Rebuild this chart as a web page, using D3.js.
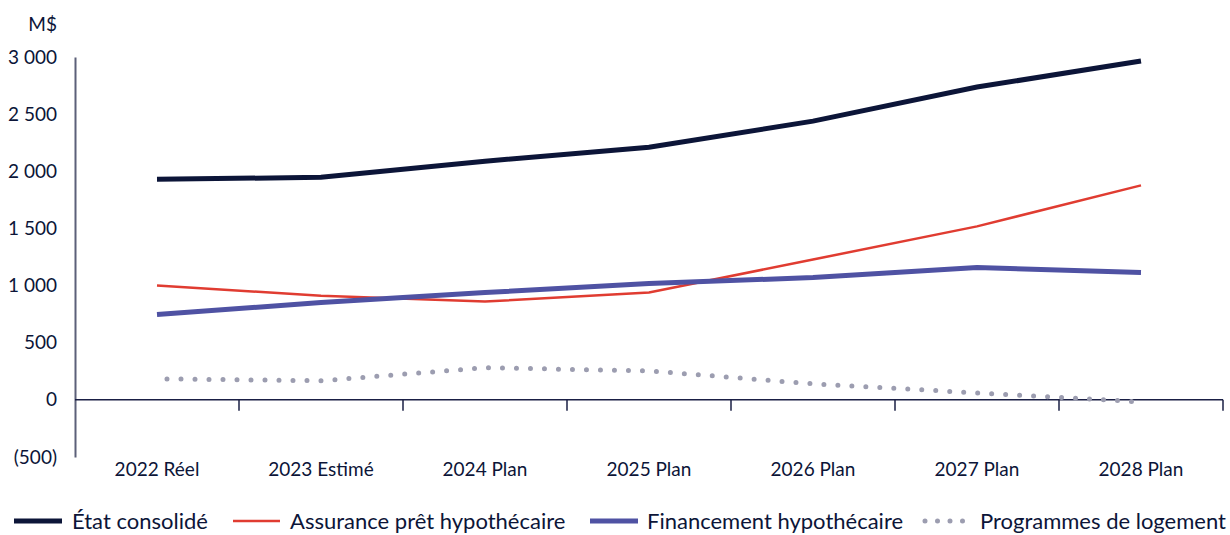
<!DOCTYPE html>
<html>
<head>
<meta charset="utf-8">
<script src="https://cdn.jsdelivr.net/npm/d3@7"></script>
<style>
  body { margin: 0; background: #fff; }
  text { font-family: Lato, "Open Sans", sans-serif; fill: #0c1538; }
  .tick-label { font-size: 19px; }
  .legend-label { font-size: 22px; }
</style>
</head>
<body>
<div id="chart"></div>
<script>
// Categories and series (M$)
const years = ["2022 Réel", "2023 Estimé", "2024 Plan", "2025 Plan", "2026 Plan", "2027 Plan", "2028 Plan"];
const etatConsolide = [1930, 1947, 2088, 2210, 2439, 2737, 2965];
const assurance = [1000, 912, 860, 939, 1228, 1518, 1877];
const financement = [746, 851, 939, 1018, 1070, 1158, 1114];
const programmes = [184, 167, 281, 254, 140, 61, -18];
const yTicks = [-500, 0, 500, 1000, 1500, 2000, 2500, 3000];

const seriesList = [
  { name: "État consolidé", values: etatConsolide, color: "#0c1538", width: 5, dotted: false },
  { name: "Assurance prêt hypothécaire", values: assurance, color: "#e03c31", width: 2.5, dotted: false },
  { name: "Financement hypothécaire", values: financement, color: "#4f52a3", width: 5, dotted: false },
  { name: "Programmes de logement", values: programmes, color: "#9c9db0", width: 5, dotted: true }
];

const W = 1230, H = 535;
const plot = { left: 75, right: 1223, top: 57, bottom: 457 };

const svg = d3.select("#chart")
  .append("svg")
  .attr("width", W)
  .attr("height", H);

const x = d3.scaleBand()
  .domain(years)
  .range([plot.left, plot.right]);

const y = d3.scaleLinear()
  .domain([-500, 3000])
  .range([plot.bottom, plot.top]);

const fmt = v => {
  const s = d3.format(",")(Math.abs(v)).replace(/,/g, " ");
  return v < 0 ? `(${s})` : s;
};

// Y axis: line only, labels on the left
const yAxis = svg.append("g")
  .attr("transform", `translate(${plot.left},0)`)
  .call(d3.axisLeft(y).tickValues(yTicks).tickSize(0).tickPadding(18).tickFormat(fmt));
yAxis.select(".domain").attr("stroke", "#5c6079").attr("stroke-width", 2);
yAxis.selectAll("text").attr("class", "tick-label").attr("fill", "#0c1538")
  .style("font-family", "Lato, sans-serif").style("font-size", "19px");

svg.append("text")
  .attr("class", "tick-label")
  .attr("x", plot.left - 18)
  .attr("y", 25)
  .attr("dy", "0.32em")
  .attr("text-anchor", "end")
  .text("M$");

// X axis at zero with ticks between categories
const xAxis = svg.append("g")
  .attr("transform", `translate(0,${y(0)})`);
xAxis.append("line")
  .attr("x1", plot.left).attr("x2", plot.right)
  .attr("stroke", "#1a1f45").attr("stroke-width", 1.5);
xAxis.selectAll("line.tk")
  .data(years.slice(1).concat(["end"]))
  .join("line")
  .attr("class", "tk")
  .attr("x1", d => d === "end" ? plot.right : x(d))
  .attr("x2", d => d === "end" ? plot.right : x(d))
  .attr("y1", 0).attr("y2", 11)
  .attr("stroke", "#1a1f45").attr("stroke-width", 1.5);

svg.selectAll("text.x-label")
  .data(years)
  .join("text")
  .attr("class", "x-label tick-label")
  .attr("x", d => x(d) + x.bandwidth() / 2)
  .attr("y", 470)
  .attr("dy", "0.32em")
  .attr("text-anchor", "middle")
  .text(d => d);

// Lines
const line = d3.line()
  .x((d, i) => x(years[i]) + x.bandwidth() / 2)
  .y(d => y(d));

seriesList.forEach(s => {
  const path = svg.append("path")
    .datum(s.values)
    .attr("d", line)
    .attr("fill", "none")
    .attr("stroke", s.color)
    .attr("stroke-width", s.width);
  if (s.dotted) {
    path.attr("stroke-dasharray", "0,14")
      .attr("stroke-linecap", "round")
      .attr("stroke-dashoffset", -10);
  }
});

// Legend
const legendItems = [
  { x1: 14, x2: 62, tx: 72 },
  { x1: 233, x2: 280, tx: 290 },
  { x1: 590, x2: 638, tx: 647 },
  { x1: 925, x2: 963, tx: 980 }
];
const legendY = 521;

legendItems.forEach((item, i) => {
  const s = seriesList[i];
  const g = svg.append("g");
  const ln = g.append("line")
    .attr("x1", item.x1).attr("x2", item.x2)
    .attr("y1", legendY).attr("y2", legendY)
    .attr("stroke", s.color)
    .attr("stroke-width", s.width);
  if (s.dotted) {
    ln.attr("stroke-dasharray", "0,12.5").attr("stroke-linecap", "round");
  }
  g.append("text")
    .attr("class", "legend-label")
    .attr("x", item.tx)
    .attr("y", legendY)
    .attr("dy", "0.35em")
    .text(s.name);
});
</script>
</body>
</html>
